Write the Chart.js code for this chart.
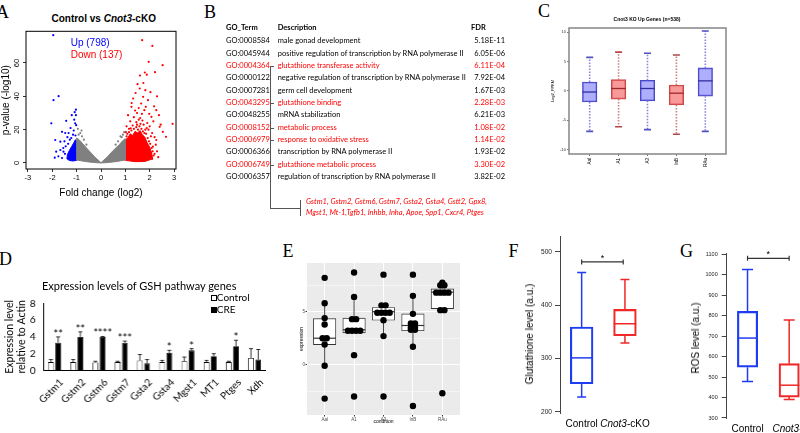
<!DOCTYPE html>
<html>
<head>
<meta charset="utf-8">
<title>Cnot3 cKO – GSH pathway figure</title>
<script src="https://cdn.jsdelivr.net/npm/chart.js@4.4.1/dist/chart.umd.min.js"></script>
<style>
  html, body { margin: 0; padding: 0; background: #fff; overflow: hidden; }
  #fig { position: relative; width: 800px; height: 433px; overflow: hidden; }
  .panel { position: absolute; }
  .t { position: absolute; white-space: nowrap; line-height: 1; }
  .letter { font-family: 'Liberation Serif', serif; font-size: 18px; }
  .arial { font-family: 'Liberation Sans', Arial, sans-serif; }
  .cal { font-family: Lato, sans-serif; }
  .vt { transform: translate(-50%, -50%) rotate(-90deg); }
  .rule { position: absolute; background: #555; }
  .sq { position: absolute; width: 4px; height: 4px; border: 0.8px solid #000; }
</style>
</head>
<body>
<div id="fig">
  <div class="t letter" style="left:-4px;top:2.9px">A</div>
  <div class="t letter" style="left:204px;top:3.2px">B</div>
  <div class="t letter" style="left:538px;top:1.6px">C</div>
  <div class="t letter" style="left:-1px;top:249.9px">D</div>
  <div class="t letter" style="left:282.5px;top:241.6px">E</div>
  <div class="t letter" style="left:508.5px;top:241.6px">F</div>
  <div class="t letter" style="left:680px;top:241.6px">G</div>

  <!-- A: volcano -->
  <div class="panel" style="left:0;top:25px;width:185px;height:180px"><canvas id="chartA"></canvas></div>
  <div class="t arial" style="left:103.7px;top:14.1px;font-size:10px;font-weight:bold;transform:translateX(-50%)">Control vs <i>Cnot3</i>-cKO</div>
  <div class="t arial" style="left:70.7px;top:37.8px;font-size:10px;color:#0000ff">Up (798)</div>
  <div class="t arial" style="left:70.7px;top:49.8px;font-size:10px;color:#ff0000">Down (137)</div>

  <!-- C: box plot -->
  <div class="panel" style="left:545px;top:10px;width:190px;height:160px"><canvas id="chartC"></canvas></div>
  <div class="t arial" style="left:647px;top:16.5px;font-size:5px;font-weight:bold;transform:translateX(-50%)">Cnot3 KO Up Genes (n=538)</div>

  <!-- D: bar chart -->
  <div class="panel" style="left:0;top:280px;width:268.5px;height:153px"><canvas id="chartD"></canvas></div>
  <div class="t cal" style="left:139.2px;top:280.2px;font-size:11px;transform:translateX(-50%)">Expression levels of GSH pathway genes</div>
  <div class="sq" style="left:211px;top:295.3px;background:#fff"></div>
  <div class="t cal" style="left:216.8px;top:292.4px;font-size:10px">Control</div>
  <div class="sq" style="left:211px;top:306.8px;background:#000"></div>
  <div class="t cal" style="left:216.8px;top:304px;font-size:10px">CRE</div>

  <!-- E: ggplot style box + dots -->
  <div class="panel" style="left:290px;top:255px;width:175px;height:178px"><canvas id="chartE"></canvas></div>

  <!-- F / G -->
  <div class="panel" style="left:515px;top:225px;width:140px;height:208px"><canvas id="chartF"></canvas></div>
  <div class="t arial vt" style="left:530px;top:334px;font-size:10px">Glutathione level (a.u.)</div>
  <div class="panel" style="left:680px;top:240px;width:130px;height:193px"><canvas id="chartG"></canvas></div>
  <div class="t arial vt" style="left:696px;top:337.5px;font-size:10px">ROS level (a.u.)</div>
</div>

<script>
// ---------- A: volcano plot ----------
const volcanoXTicks = [-3, -2, -1, 0, 1, 2, 3];
const volcanoYTicks = [0, 20, 40, 60];
// outlines of the dense point clouds
const greyCloud = [[-1, 1.8], [-1, 15], [-0.9, 14], [-0.75, 11.5], [-0.5, 7.5], [-0.25, 3.5], [0, 0.2], [0.25, 3.5], [0.5, 7.5], [0.75, 11], [0.9, 13.5], [1, 14.5], [1, 1.8], [0.6, 0.8], [0.3, 0.3], [0, 0], [-0.3, 0.3], [-0.6, 0.8], [-1, 1.8]];
const redCloud = [[1, 1.6], [1, 14], [1.1, 15], [1.2, 17.5], [1.3, 16.5], [1.4, 19], [1.5, 18], [1.6, 19.5], [1.7, 17], [1.8, 15.5], [1.9, 12], [2.0, 9.5], [2.08, 6], [2.12, 2.5], [1.8, 0.9], [1.4, 0.8], [1, 1.6]];
const blueCloud = [[-1, 1.6], [-1, 13], [-1.05, 14], [-1.12, 12], [-1.2, 10], [-1.3, 7.5], [-1.38, 5], [-1.4, 2.5], [-1.3, 1.5], [-1.15, 1.2], [-1, 1.6]];
const greyPts = [[-0.85, 18], [-0.8, 19.5], [-0.92, 17], [-0.7, 14], [-0.78, 16], [-0.95, 20.5], [0.85, 15.5], [0.9, 17], [0.8, 16], [0.95, 18.5], [0.7, 13], [-0.6, 11], [0.6, 11]];
const bluePts = [[-1.96, 76.7], [-1.74, 40.1], [-1.95, 37.7], [-2.04, 23.8], [-1.43, 25.3], [-1.2, 28.7], [-1.03, 28.7], [-1.06, 23.8], [-1.02, 22.7], [-1.6, 18.7], [-1.47, 18], [-1.33, 18], [-1.88, 13.8], [-1.67, 12.8], [-1.67, 7.8], [-1.54, 6.8], [-1.84, 6.8], [-1.03, 32], [-1.1, 26], [-1.25, 21], [-1.15, 17], [-1.38, 15.5], [-1.5, 13], [-1.28, 14], [-1.45, 10], [-1.55, 9], [-1.75, 4], [-1.6, 3], [-1.48, 5.5], [-1.12, 19.5], [-1.05, 16.5], [-1.22, 15], [-1.9, 3.2], [-1.35, 11.5], [-1.08, 30.5]];
const redPts = [[1.69, 73.7], [2.11, 70.2], [1.96, 60.7], [2.53, 58.7], [1.8, 54.3], [2.22, 54.5], [1.88, 53], [1.5, 47.3], [1.59, 44.7], [1.82, 43.7], [1.73, 39.7], [1.32, 38.7], [1.93, 37.7], [1.65, 35.7], [1.84, 33.7], [1.25, 33.7], [2.27, 31.7], [1.78, 31.7], [1.48, 30], [2.38, 28.7], [1.11, 28.7], [2.07, 27.7], [1.61, 27], [2.94, 23.5], [2.41, 21.7], [2.54, 18.7], [2.67, 15.7], [2.27, 13.8], [2.13, 9.8],
  [1.2, 25], [1.35, 27.5], [1.45, 24.5], [1.55, 26], [1.7, 25.5], [1.9, 24], [2.0, 22], [1.05, 22], [1.15, 20.5], [1.3, 22.5], [1.75, 23], [1.95, 20], [2.1, 18], [2.2, 15.5], [1.4, 31.5], [1.55, 33], [1.68, 29.5], [1.98, 29.5], [2.15, 25], [1.02, 18.5], [1.08, 17.5], [1.62, 23.5], [1.88, 21], [2.05, 16], [2.25, 11], [2.3, 7], [2.2, 5.5], [2.35, 3.5], [2.1, 2.5], [1.26, 36], [1.42, 42], [1.74, 48], [2.03, 42.5], [2.3, 40], [1.6, 52.5], [2.45, 23], [2.18, 34],
  [1.05, 16], [1.15, 18.5], [1.25, 19.5], [1.35, 20.5], [1.45, 21.5], [1.52, 20], [1.58, 22], [1.66, 20.5], [1.72, 19], [1.78, 18], [1.85, 17.5], [1.92, 15], [1.97, 13], [2.02, 11.5], [2.08, 9], [2.12, 7], [2.16, 4.5], [1.22, 20.8], [1.48, 23], [1.82, 20]];

// ---------- B: GO table ----------
const goIds = ['GO:0008584', 'GO:0045944', 'GO:0004364', 'GO:0000122', 'GO:0007281', 'GO:0043295', 'GO:0048255', 'GO:0008152', 'GO:0006979', 'GO:0006366', 'GO:0006749', 'GO:0006357'];
const goDesc = ['male gonad development', 'positive regulation of transcription by RNA polymerase II', 'glutathione transferase activity', 'negative regulation of transcription by RNA polymerase II', 'germ cell development', 'glutathione binding', 'mRNA stabilization', 'metabolic process', 'response to oxidative stress', 'transcription by RNA polymerase II', 'glutathione metabolic process', 'regulation of transcription by RNA polymerase II'];
const goFdr = ['5.18E-11', '6.05E-06', '6.11E-04', '7.92E-04', '1.67E-03', '2.28E-03', '6.21E-03', '1.08E-02', '1.14E-02', '1.93E-02', '3.30E-02', '3.82E-02'];
const goRed = [2, 5, 7, 8, 10];
const geneLines = ['Gstm1, Gstm2, Gstm6, Gstm7, Gsta2, Gsta4, Gstt2, Gpx8,', 'Mgst1, Mt-1,Tgfb1, Inhbb, Inha, Apoe, Spp1, Cxcr4, Ptges'];

// ---------- C: Cnot3 KO up genes ----------
const cLabels = ['Aal', 'A1', 'A3', 'InB', 'RAu'];
const cMin = [-6.9, -6.1, -6.6, -7.4, -6.9];
const cQ1 = [-1.9, -1.4, -1.7, -2.4, -0.9];
const cMed = [-0.2, 0.4, 0.4, -0.4, 1.7];
const cQ3 = [1.5, 1.9, 1.8, 1.0, 3.9];
const cMax = [5.7, 6.6, 6.4, 6.1, 10.2];
const cYTicks = [-10, -5, 0, 5, 10];

// ---------- D: GSH pathway genes ----------
const gshGenes = ['Gstm1', 'Gstm2', 'Gstm6', 'Gstm7', 'Gsta2', 'Gsta4', 'Mgst1', 'MT1', 'Ptges', 'Xdh'];
const ctrlMean = [1.0, 1.0, 0.95, 1.0, 1.2, 1.0, 1.1, 1.0, 1.0, 1.5];
const ctrlErr = [0.3, 0.3, 0.15, 0.1, 0.7, 0.2, 0.5, 0.2, 0.1, 1.1];
const creMean = [3.3, 4.0, 4.0, 3.3, 0.85, 2.1, 2.4, 1.7, 2.9, 1.3];
const creErr = [0.7, 0.6, 0.05, 0.2, 0.45, 0.3, 0.2, 0.3, 0.7, 1.2];
const gshSig = ['**', '**', '****', '***', '', '*', '*', '', '*', ''];

// ---------- E: expression by condition ----------
const eLabels = ['Aal', 'A1', 'A3', 'InB', 'RAu'];
const eValues = [
  [8.2, 5.8, 4.4, 3.8, 2.5, 2.5, 1.9, -0.1, -3.2],
  [8.7, 6.4, 4.3, 4.3, 3.2, 3.2, 3.2, 3.2, 0.9, -3.0],
  [8.5, 5.6, 5.6, 4.9, 4.9, 4.9, 4.9, 4.2, 2.7, -3.0],
  [8.5, 6.5, 4.8, 3.9, 3.9, 3.5, 3.5, 3.3, 3.3, 1.7, -3.9],
  [7.75, 7.5, 7.5, 6.8, 6.8, 6.8, 6.8, 5.15, 5.15, -2.7]
];
const eLo = [-0.1, 3.0, 2.7, 1.7, 5.15];
const eQ1 = [1.9, 3.0, 4.2, 3.2, 5.3];
const eMed = [2.5, 3.3, 5.0, 3.7, 6.85];
const eQ3 = [4.35, 4.4, 5.4, 4.8, 7.15];
const eHi = [5.8, 6.4, 5.6, 6.5, 7.75];
const eYTicks = [-2.5, 0, 2.5, 5, 7.5];

// ---------- F / G ----------
const groups = ['Control', 'Cnot3-cKO'];
const fLo = [227.5, 329], fQ1 = [252.5, 342.5], fMed = [301, 365], fQ3 = [359, 392], fHi = [461, 448];
const fYTicks = [200, 300, 400, 500];
const gLo = [478, 390], gQ1 = [548, 402], gMed = [690, 460], gQ3 = [820, 565], gHi = [1025, 778];
const gYTicks = [300, 400, 500, 600, 700, 800, 900, 1000, 1100];

const BLUE = '#1f3cf5', RED = '#f02828';

Chart.defaults.font.family = "'Liberation Sans', Arial, sans-serif";
Chart.defaults.color = '#000';
Chart.defaults.animation = false;
Chart.defaults.plugins.legend.display = false;
Chart.defaults.plugins.tooltip.enabled = false;

const xy = pts => pts.map(p => ({ x: p[0], y: p[1] }));
const setTicks = vals => s => { s.ticks = vals.map(v => ({ value: v })); };
const fixW = w => s => { s.width = w; };
const fixH = h => s => { s.height = h; };

// rectangle around the plot area
const frame = {
  id: 'frame',
  afterDraw(chart, args, opts) {
    if (!opts.color) return;
    const { ctx, chartArea: a } = chart;
    ctx.save();
    ctx.strokeStyle = opts.color;
    ctx.lineWidth = opts.width || 1;
    ctx.strokeRect(a.left, a.top, a.right - a.left, a.bottom - a.top);
    ctx.restore();
  }
};

// whiskers, caps and medians; the boxes are floating bars
const boxParts = {
  id: 'boxParts',
  afterDatasetDraw(chart, args, opts) {
    if (!opts.lo || args.index !== opts.boxIndex) return;
    const { ctx } = chart;
    const y = chart.scales.y;
    const pick = (v, i) => Array.isArray(v) ? v[i] : v;
    ctx.save();
    args.meta.data.forEach((bar, i) => {
      const x = bar.x, half = bar.width / 2;
      const top = Math.min(bar.y, bar.base), bottom = Math.max(bar.y, bar.base);
      const hi = y.getPixelForValue(opts.hi[i]), lo = y.getPixelForValue(opts.lo[i]);
      const cap = opts.cap / 2;
      ctx.strokeStyle = pick(opts.whiskerColor, i);
      ctx.lineWidth = opts.whiskerWidth;
      ctx.setLineDash(opts.dash || []);
      ctx.beginPath();
      ctx.moveTo(x, top); ctx.lineTo(x, hi);
      ctx.moveTo(x, bottom); ctx.lineTo(x, lo);
      ctx.stroke();
      ctx.setLineDash([]);
      ctx.strokeStyle = pick(opts.capColor || opts.whiskerColor, i);
      ctx.beginPath();
      ctx.moveTo(x - cap, hi); ctx.lineTo(x + cap, hi);
      ctx.moveTo(x - cap, lo); ctx.lineTo(x + cap, lo);
      ctx.stroke();
      const m = y.getPixelForValue(opts.med[i]);
      ctx.strokeStyle = pick(opts.medianColor, i);
      ctx.lineWidth = opts.medianWidth;
      ctx.beginPath();
      ctx.moveTo(x - half, m); ctx.lineTo(x + half, m);
      ctx.stroke();
    });
    ctx.restore();
  }
};

// grey ggplot panel
const panelBg = {
  id: 'panelBg',
  beforeDraw(chart, args, opts) {
    if (!opts.color) return;
    const { ctx, chartArea: a } = chart;
    ctx.save();
    ctx.fillStyle = opts.color;
    ctx.fillRect(a.left, a.top, a.right - a.left, a.bottom - a.top);
    ctx.restore();
  }
};

// error bars + significance stars for the grouped bars
const errorBars = {
  id: 'errorBars',
  afterDatasetsDraw(chart, args, opts) {
    if (!opts.errors) return;
    const { ctx } = chart;
    const y = chart.scales.y;
    ctx.save();
    ctx.strokeStyle = '#000';
    ctx.lineWidth = 0.8;
    opts.errors.forEach((errs, di) => {
      const meta = chart.getDatasetMeta(di);
      const vals = chart.data.datasets[di].data;
      meta.data.forEach((bar, i) => {
        const top = y.getPixelForValue(vals[i] + errs[i]);
        ctx.beginPath();
        ctx.moveTo(bar.x, bar.y); ctx.lineTo(bar.x, top);
        ctx.moveTo(bar.x - 2, top); ctx.lineTo(bar.x + 2, top);
        ctx.stroke();
        if (di === opts.starSet && opts.stars[i]) {
          ctx.fillStyle = '#000';
          ctx.font = '11px Lato';
          ctx.textAlign = 'center';
          ctx.textBaseline = 'alphabetic';
          ctx.fillText(opts.stars[i], bar.x, top + 1);
        }
      });
    });
    ctx.restore();
  }
};

// significance bracket for F and G
const sigBracket = {
  id: 'sigBracket',
  afterDraw(chart, args, opts) {
    if (opts.value == null) return;
    const { ctx, scales: { x, y } } = chart;
    const x1 = x.getPixelForValue(opts.from), x2 = x.getPixelForValue(opts.to);
    const yy = y.getPixelForValue(opts.value);
    ctx.save();
    ctx.strokeStyle = '#333';
    ctx.lineWidth = 1.2;
    ctx.beginPath();
    ctx.moveTo(x1, yy); ctx.lineTo(x2, yy);
    ctx.moveTo(x1, yy - 2.5); ctx.lineTo(x1, yy + 2.5);
    ctx.moveTo(x2, yy - 2.5); ctx.lineTo(x2, yy + 2.5);
    ctx.stroke();
    ctx.fillStyle = '#000';
    ctx.font = "9px 'Liberation Sans'";
    ctx.textAlign = 'center';
    ctx.textBaseline = 'alphabetic';
    ctx.fillText(opts.label, (x1 + x2) / 2, yy - 1);
    ctx.restore();
  }
};

// group names under F/G, gene name in italics
const groupLabels = {
  id: 'groupLabels',
  afterDraw(chart, args, opts) {
    if (!opts.labels) return;
    const { ctx, chartArea, scales: { x } } = chart;
    const font = it => (it ? 'italic ' : '') + "10px 'Liberation Sans'";
    ctx.save();
    ctx.fillStyle = '#000';
    ctx.textBaseline = 'middle';
    ctx.textAlign = 'left';
    opts.labels.forEach((lab, i) => {
      const parts = lab.startsWith(opts.italic)
        ? [[opts.italic, true], [lab.slice(opts.italic.length), false]]
        : [[lab, false]];
      let w = 0;
      parts.forEach(([t, it]) => { ctx.font = font(it); w += ctx.measureText(t).width; });
      let px = x.getPixelForValue(i + 1) - w / 2 + (opts.shift ? opts.shift[i] : 0);
      parts.forEach(([t, it]) => {
        ctx.font = font(it);
        ctx.fillText(t, px, chartArea.bottom + opts.offset);
        px += ctx.measureText(t).width;
      });
    });
    ctx.restore();
  }
};

// ---------- panel B (text table) ----------
const fig = document.getElementById('fig');
function put(text, left, top, css) {
  const el = document.createElement('div');
  el.className = 't cal';
  el.textContent = text;
  el.style.left = left + 'px';
  el.style.top = top + 'px';
  Object.assign(el.style, { fontSize: '7.5px' }, css || {});
  fig.appendChild(el);
  return el;
}
function rule(left, top, w, h) {
  const el = document.createElement('div');
  el.className = 'rule';
  Object.assign(el.style, { left: left + 'px', top: top + 'px', width: w + 'px', height: h + 'px' });
  fig.appendChild(el);
}
put('GO_Term', 226, 24.3, { fontWeight: 'bold' });
put('Description', 277.7, 24.3, { fontWeight: 'bold' });
put('FDR', 471, 24.3, { fontWeight: 'bold' });
goIds.forEach((id, i) => {
  const top = 37.3 + 12.35 * i;
  const color = goRed.includes(i) ? '#ff0000' : '#000';
  put(id, 226, top, { color });
  put(goDesc[i], 277.7, top, { color });
  put(goFdr[i], 0, top, { color, left: 'auto', right: (800 - 505) + 'px' });
  if (goRed.includes(i)) rule(270.7, top + 4, 3.5, 0.9);
});
rule(270.2, 65.8, 0.9, 143);
rule(270.2, 208.3, 30, 0.9);
rule(299.8, 200, 0.9, 16);
geneLines.forEach((line, i) => put(line, 306, 198 + 11.3 * i, { color: '#ff0000', fontStyle: 'italic' }));

// ---------- A ----------
new Chart(document.getElementById('chartA'), {
  type: 'scatter',
  data: {
    datasets: [
      { data: xy(greyCloud), showLine: true, fill: 'shape', backgroundColor: '#808080', borderColor: '#808080', borderWidth: 1, pointRadius: 0 },
      { data: xy(redCloud), showLine: true, fill: 'shape', backgroundColor: '#ff0000', borderColor: '#ff0000', borderWidth: 1, pointRadius: 0 },
      { data: xy(blueCloud), showLine: true, fill: 'shape', backgroundColor: '#0000ff', borderColor: '#0000ff', borderWidth: 1, pointRadius: 0 },
      { data: xy(greyPts), backgroundColor: '#808080', pointRadius: 1.1, borderWidth: 0 },
      { data: xy(redPts), backgroundColor: '#ff0000', pointRadius: 1.1, borderWidth: 0 },
      { data: xy(bluePts), backgroundColor: '#0000ff', pointRadius: 1.1, borderWidth: 0 }
    ]
  },
  options: {
    responsive: true,
    maintainAspectRatio: false,
    layout: { padding: { top: 6, right: 9, left: 0, bottom: 0 } },
    plugins: { frame: { color: '#000', width: 1 } },
    scales: {
      x: {
        type: 'linear', min: -3.08, max: 3.08,
        afterBuildTicks: setTicks(volcanoXTicks), afterFit: fixH(36),
        border: { display: false },
        grid: { drawOnChartArea: false, tickLength: 3, tickColor: '#333' },
        ticks: { font: { size: 7.5 }, padding: 1, minRotation: 0, maxRotation: 0, autoSkip: false },
        title: { display: true, text: 'Fold change (log2)', font: { size: 10 }, padding: { top: 0, bottom: 6 } }
      },
      y: {
        type: 'linear', min: -3.6, max: 79,
        afterBuildTicks: setTicks(volcanoYTicks), afterFit: fixW(26),
        border: { display: false },
        grid: { drawOnChartArea: false, tickLength: 3, tickColor: '#333' },
        ticks: { font: { size: 7.5 }, padding: 1.8, minRotation: 90, crossAlign: 'center', autoSkip: false },
        title: { display: true, text: 'p-value (-log10)', font: { size: 10 }, padding: { top: 0.3, bottom: 0 } }
      }
    }
  },
  plugins: [frame]
});

// ---------- C ----------
const cBlue = i => i % 2 === 0;
new Chart(document.getElementById('chartC'), {
  type: 'bar',
  data: {
    datasets: [{
      data: cLabels.map((_, i) => ({ x: i + 1, y: [cQ1[i], cQ3[i]] })),
      backgroundColor: cLabels.map((_, i) => cBlue(i) ? 'rgba(120,120,250,0.6)' : 'rgba(245,100,100,0.65)'),
      borderColor: cLabels.map((_, i) => cBlue(i) ? '#4646c4' : '#c84848'),
      borderWidth: 1, borderSkipped: false, barThickness: 14.5
    }]
  },
  options: {
    responsive: true,
    maintainAspectRatio: false,
    layout: { padding: { top: 18, right: 9, left: 0, bottom: 0 } },
    plugins: {
      frame: { color: '#8c8c8c', width: 1.6 },
      boxParts: {
        boxIndex: 0, lo: cMin, hi: cMax, med: cMed, cap: 7,
        whiskerColor: cLabels.map((_, i) => cBlue(i) ? '#8585dd' : '#cc8080'),
        capColor: cLabels.map((_, i) => cBlue(i) ? '#5050c0' : '#b04848'),
        whiskerWidth: 1.6, dash: [1.5, 1.5],
        medianColor: cLabels.map((_, i) => cBlue(i) ? '#3030a0' : '#a02828'), medianWidth: 1.3
      }
    },
    scales: {
      x: {
        type: 'linear', min: 0.284, max: 5.716, offset: false,
        afterBuildTicks: setTicks(cLabels.map((_, i) => i + 1)), afterFit: fixH(16),
        border: { display: false },
        grid: { drawOnChartArea: false, offset: false, tickLength: 2, tickColor: '#777' },
        ticks: { font: { size: 4.5 }, padding: 2, minRotation: 90, maxRotation: 90, autoSkip: false, callback: v => cLabels[v - 1] }
      },
      y: {
        type: 'linear', min: -10.75, max: 10.7,
        afterBuildTicks: setTicks(cYTicks), afterFit: fixW(24),
        border: { display: false },
        grid: { drawOnChartArea: false, tickLength: 2, tickColor: '#777' },
        ticks: { font: { size: 4 }, padding: 1, color: '#333' },
        title: { display: true, text: 'Log2_FPKM', font: { size: 4 }, padding: { top: 5.6, bottom: 0 } }
      }
    }
  },
  plugins: [frame, boxParts]
});

// ---------- D ----------
new Chart(document.getElementById('chartD'), {
  type: 'bar',
  data: {
    labels: gshGenes,
    datasets: [
      { label: 'Control', data: ctrlMean, backgroundColor: '#fff', borderColor: '#000', borderWidth: 0.8, categoryPercentage: 0.651, barPercentage: 0.8 },
      { label: 'CRE', data: creMean, backgroundColor: '#000', borderColor: '#000', borderWidth: 0.8, categoryPercentage: 0.651, barPercentage: 0.8 }
    ]
  },
  options: {
    responsive: true,
    maintainAspectRatio: false,
    layout: { padding: { top: 23.3, right: 3.75, left: 0, bottom: 0 } },
    plugins: { errorBars: { errors: [ctrlErr, creErr], starSet: 1, stars: gshSig } },
    scales: {
      x: {
        afterFit: fixH(62.5),
        border: { color: '#000', width: 1 },
        grid: { drawOnChartArea: false, drawTicks: false },
        ticks: { font: { family: 'Lato', size: 10 }, minRotation: 45, maxRotation: 45, autoSkip: false, padding: 6, labelOffset: 7 }
      },
      y: {
        min: 0, max: 8,
        afterFit: fixW(43.25),
        border: { color: '#000', width: 1 },
        grid: { drawOnChartArea: false, drawTicks: false },
        ticks: { stepSize: 2, font: { family: 'Lato', size: 10 }, padding: 7.75 },
        title: { display: true, text: ['Expression level', 'relative to Actin'], font: { family: 'Lato', size: 10.5, lineHeight: 1.1 }, padding: { top: 4.2, bottom: 0 } }
      }
    }
  },
  plugins: [errorBars]
});

// ---------- E ----------
const eDots = [];
eValues.forEach((vals, ci) => {
  // dots with the same value sit side by side, like a dot plot
  const seen = {};
  vals.forEach(v => { seen[v] = (seen[v] || 0) + 1; });
  const used = {};
  vals.forEach(v => {
    const n = seen[v], k = used[v] || 0;
    used[v] = k + 1;
    eDots.push({ x: ci + 1 + (k - (n - 1) / 2) * 0.14, y: v });
  });
});
new Chart(document.getElementById('chartE'), {
  type: 'scatter',
  data: {
    datasets: [
      { type: 'scatter', order: 0, data: eDots, backgroundColor: '#000', pointRadius: 3.2, borderWidth: 0 },
      {
        type: 'bar', order: 1,
        data: eLabels.map((_, i) => ({ x: i + 1, y: [eQ1[i], eQ3[i]] })),
        backgroundColor: '#fff', borderColor: '#333', borderWidth: 0.9, borderSkipped: false, barThickness: 22.5
      }
    ]
  },
  options: {
    responsive: true,
    maintainAspectRatio: false,
    layout: { padding: { top: 8, right: 5, left: 0, bottom: 0 } },
    plugins: {
      panelBg: { color: '#ebebeb' },
      boxParts: {
        boxIndex: 1, lo: eLo, hi: eHi, med: eMed, cap: 0,
        whiskerColor: '#333', whiskerWidth: 0.9, medianColor: '#333', medianWidth: 1.2
      }
    },
    scales: {
      x: {
        type: 'linear', min: 0.4, max: 5.6, offset: false,
        afterBuildTicks: setTicks(eLabels.map((_, i) => i + 1)), afterFit: fixH(18),
        border: { display: false },
        grid: { color: '#fff', lineWidth: 1, tickColor: '#333', tickLength: 1.5, offset: false },
        ticks: { font: { size: 4.5 }, color: '#4d4d4d', padding: 0.5, minRotation: 0, maxRotation: 0, autoSkip: false, callback: v => eLabels[v - 1] },
        title: { display: true, text: 'condition', font: { size: 5 }, padding: { top: 0, bottom: 8.3 } }
      },
      y: {
        type: 'linear', min: -4.75, max: 9.6,
        afterBuildTicks: setTicks(eYTicks), afterFit: fixW(17),
        border: { display: false },
        grid: {
          color: '#fff',
          lineWidth: c => (c.tick && c.tick.value % 5 === 0 ? 1 : 0.5),
          tickColor: c => (c.tick && c.tick.value % 5 === 0 ? '#333' : 'rgba(0,0,0,0)'),
          tickLength: 1.5
        },
        ticks: { font: { size: 4.5 }, color: '#4d4d4d', padding: 0.5, callback: v => (v % 5 === 0 ? v : '') },
        title: { display: true, text: 'expression', font: { size: 5 }, padding: { top: 8.7, bottom: 0 } }
      }
    }
  },
  plugins: [panelBg, boxParts]
});

// ---------- F and G ----------
function groupBoxChart(id, stats, yOpts, pad, sig, shift) {
  return new Chart(document.getElementById(id), {
    type: 'bar',
    data: {
      datasets: [{
        data: groups.map((_, i) => ({ x: i + 1, y: [stats.q1[i], stats.q3[i]] })),
        backgroundColor: 'rgba(255,255,255,0)',
        borderColor: [BLUE, RED], borderWidth: 1.5, borderSkipped: false, barThickness: stats.width
      }]
    },
    options: {
      responsive: true,
      maintainAspectRatio: false,
      layout: { padding: pad },
      plugins: {
        boxParts: {
          boxIndex: 0, lo: stats.lo, hi: stats.hi, med: stats.med, cap: stats.cap,
          whiskerColor: [BLUE, RED], whiskerWidth: 1.5, medianColor: [BLUE, RED], medianWidth: 1.5
        },
        sigBracket: sig,
        groupLabels: { labels: groups, italic: 'Cnot3', offset: 11.3, shift }
      },
      scales: {
        x: { type: 'linear', display: false, min: 0.5, max: 2.5, offset: false },
        y: Object.assign({
          type: 'linear',
          border: { color: '#444', width: 1 },
          grid: { drawOnChartArea: false, tickLength: 5, tickColor: '#444' }
        }, yOpts)
      }
    },
    plugins: [boxParts, sigBracket, groupLabels]
  });
}

groupBoxChart('chartF',
  { lo: fLo, q1: fQ1, med: fMed, q3: fQ3, hi: fHi, width: 22.7, cap: 9 },
  { min: 197.6, max: 528.3, afterBuildTicks: setTicks(fYTicks), afterFit: fixW(45), ticks: { font: { size: 6.6 }, color: '#222', padding: 3, callback: v => String(v) } },
  { top: 11.7, right: 8.4, left: 0, bottom: 20 },
  { from: 1, to: 1.96, value: 481, label: '*' }, [0, 0]);

groupBoxChart('chartG',
  { lo: gLo, q1: gQ1, med: gMed, q3: gQ3, hi: gHi, width: 20.3, cap: 11 },
  { min: 298.5, max: 1105, afterBuildTicks: setTicks(gYTicks), afterFit: fixW(46.7), ticks: { font: { size: 5.5 }, color: '#222', padding: 4, callback: v => String(v) } },
  { top: 13, right: 0, left: 0, bottom: 14.7 },
  { from: 1, to: 2, value: 1079, label: '*' }, [0, 8]);
</script>
</body>
</html>
